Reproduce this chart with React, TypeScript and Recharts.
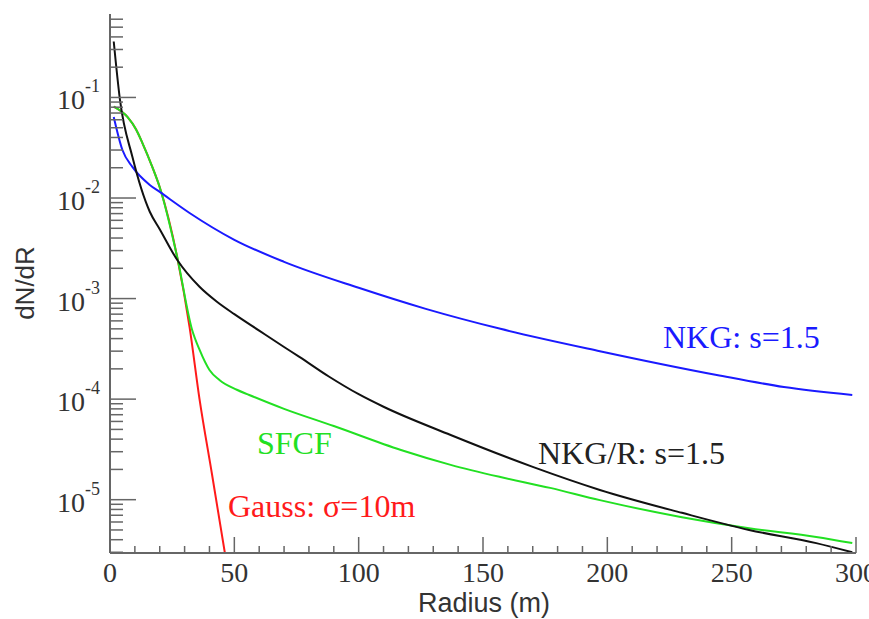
import { Line, LineChart, XAxis, YAxis } from 'recharts'

const serif = '"Liberation Serif", "Times New Roman", serif'
const sans = '"Liberation Sans", Arial, sans-serif'
const frame = '#666'

// NKG: s=1.5 (blue)
const nkgRadius = [1.5, 5, 9, 16, 20, 32, 50, 70, 100, 127, 157, 197, 244, 271, 298.5]
const nkgDensity = [0.064, 0.03, 0.0204, 0.0135, 0.0115, 0.0071, 0.00384, 0.00232, 0.00128, 0.00079, 0.0005, 0.0003, 0.000174, 0.000132, 0.00011]

// NKG/R: s=1.5 (black)
const nkgRRadius = [1.5, 4, 9, 16, 20, 27, 36, 43, 50, 60, 70, 76, 88, 100, 110, 137, 170, 197, 230, 257, 284, 298.5]
const nkgRDensity = [
  0.36, 0.095, 0.0257, 0.0073, 0.0049, 0.00243, 0.00131, 0.00093, 0.0007, 0.00048, 0.00033, 0.000265, 0.000168,
  0.000112, 8.4e-5, 4.4e-5, 2.12e-5, 1.25e-5, 7.4e-6, 5.0e-6, 3.7e-6, 3.0e-6,
]

// SFCF (green)
const sfcfRadius = [1.5, 7, 10.5, 13, 17, 20, 27, 33, 36, 40, 44, 51, 56, 70, 90, 117, 137, 157, 177, 197, 230, 257, 284, 298.5]
const sfcfDensity = [
  0.081, 0.064, 0.048, 0.0354, 0.0204, 0.0128, 0.0026, 0.00049, 0.00031, 0.000195, 0.000155, 0.000124, 0.00011, 8.0e-5,
  5.4e-5, 3.12e-5, 2.22e-5, 1.68e-5, 1.31e-5, 9.9e-6, 6.7e-6, 5.2e-6, 4.26e-6, 3.7e-6,
]

// Gauss: sigma=10m (red)
const gaussRadius = [1.5, 7, 10.5, 13, 17, 20, 27, 32, 36, 41, 46.2]
const gaussDensity = [0.081, 0.064, 0.048, 0.0354, 0.0204, 0.0128, 0.0026, 0.00052, 0.0001, 1.8e-5, 2.95e-6]

const yDomain = [2.95e-6, 0.676]
const decades = [-6, -5, -4, -3, -2, -1]
const mantissas = [1, 2, 3, 4, 5, 6, 7, 8, 9]
const yTicks = decades
  .flatMap((d) => mantissas.map((m) => m * Math.pow(10, d)))
  .filter((v) => v >= yDomain[0] && v <= yDomain[1])

const xTicks = [0, 10, 20, 30, 40, 50, 60, 70, 80, 90, 100, 110, 120, 130, 140, 150, 160, 170, 180, 190, 200, 210, 220, 230, 240, 250, 260, 270, 280, 290, 300]

const toRows = (rs: number[], vs: number[]) => rs.map((r, i) => ({ r, v: vs[i] }))

const YTick = (props: any) => {
  const { x, y, payload } = props
  const lg = Math.log10(payload.value)
  const exp = Math.round(lg)
  const major = Math.abs(lg - exp) < 1e-6
  return (
    <g>
      <line x1={x} y1={y} x2={x + (major ? 26 : 13)} y2={y} stroke={frame} strokeWidth={1.5} />
      {major && (
        <text x={x - 10} y={y + 12} textAnchor="end" fontFamily={serif} fontSize={28} fill="#333">
          10
          <tspan dy={-17} fontSize={18}>
            {exp}
          </tspan>
        </text>
      )}
    </g>
  )
}

const XTick = (props: any) => {
  const { x, y, payload } = props
  const major = payload.value % 50 === 0
  return (
    <g>
      <line x1={x} y1={y} x2={x} y2={y - (major ? 16 : 7)} stroke={frame} strokeWidth={1.5} />
      {major && (
        <text x={x} y={y + 29} textAnchor="middle" fontFamily={serif} fontSize={28} fill="#333">
          {payload.value}
        </text>
      )}
    </g>
  )
}

const axisLine = { stroke: frame, strokeWidth: 2 }

const App = () => {
  return (
    <div style={{ position: 'absolute', left: 0, top: 0 }}>
      <LineChart width={869} height={619} margin={{ top: 14, right: 13, bottom: 0, left: 10 }}>
        <XAxis
          xAxisId={0}
          dataKey="r"
          type="number"
          domain={[0, 300]}
          ticks={xTicks}
          interval={0}
          tick={XTick}
          tickLine={false}
          tickSize={0}
          tickMargin={0}
          height={66}
          axisLine={axisLine}
          allowDataOverflow
        />
        <XAxis xAxisId="top" orientation="top" type="number" domain={[0, 300]} tick={false} tickLine={false} height={0} axisLine={axisLine} />
        <YAxis
          yAxisId={0}
          type="number"
          scale="log"
          domain={yDomain}
          ticks={yTicks}
          interval={0}
          tick={YTick}
          tickLine={false}
          tickSize={0}
          tickMargin={0}
          width={100}
          axisLine={axisLine}
          allowDataOverflow
        />
        <YAxis yAxisId="right" orientation="right" type="number" domain={[0, 1]} tick={false} tickLine={false} width={0} axisLine={axisLine} />
        <Line data={toRows(gaussRadius, gaussDensity)} dataKey="v" type="monotone" stroke="#ff1a1a" strokeWidth={2} dot={false} isAnimationActive={false} />
        <Line data={toRows(sfcfRadius, sfcfDensity)} dataKey="v" type="monotone" stroke="#22e022" strokeWidth={2} dot={false} isAnimationActive={false} />
        <Line data={toRows(nkgRadius, nkgDensity)} dataKey="v" type="monotone" stroke="#1a1aff" strokeWidth={2} dot={false} isAnimationActive={false} />
        <Line data={toRows(nkgRRadius, nkgRDensity)} dataKey="v" type="monotone" stroke="#111" strokeWidth={2} dot={false} isAnimationActive={false} />
        <text x={663} y={348} fontFamily={serif} fontSize={32} fill="#1a1aff">
          NKG: s=1.5
        </text>
        <text x={538} y={464} fontFamily={serif} fontSize={32} fill="#222">
          NKG/R: s=1.5
        </text>
        <text x={257} y={454} fontFamily={serif} fontSize={32} fill="#22e022">
          SFCF
        </text>
        <text x={228} y={517} fontFamily={serif} fontSize={32} fill="#ff1a1a">
          Gauss: σ=10m
        </text>
        <text x={25} y={283} transform="rotate(-90 25 283)" textAnchor="middle" dominantBaseline="central" fontFamily={sans} fontSize={26} fill="#333">
          dN/dR
        </text>
        <text x={484} y={612} textAnchor="middle" fontFamily={sans} fontSize={27} fill="#333">
          Radius (m)
        </text>
      </LineChart>
    </div>
  )
}

export default App
